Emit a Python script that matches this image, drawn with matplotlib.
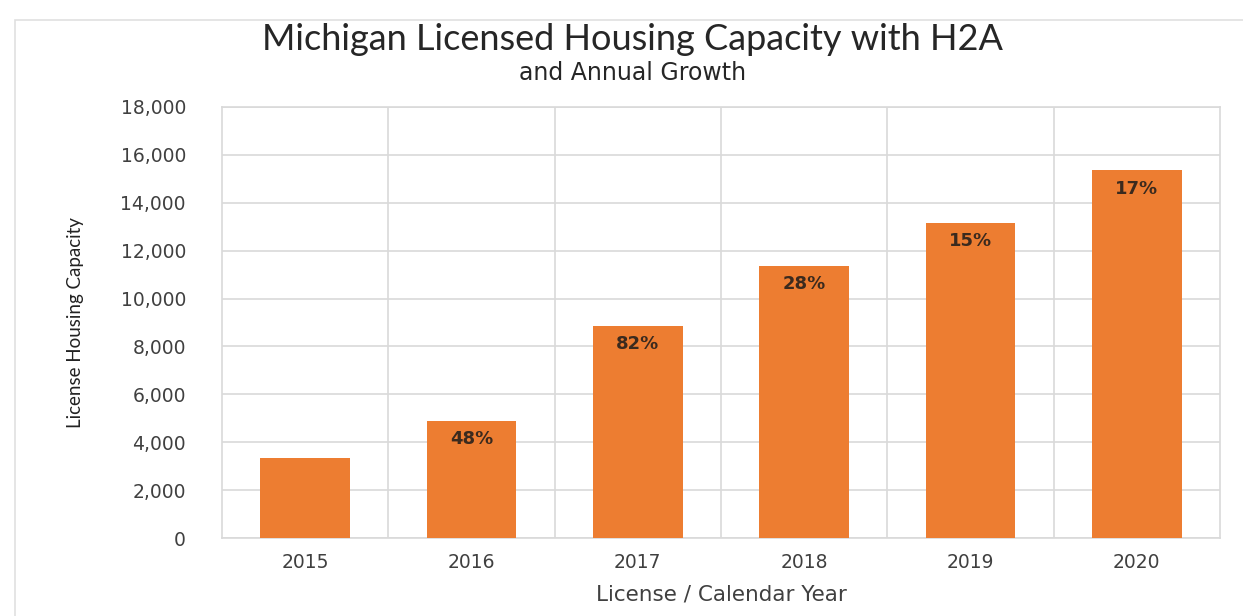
import matplotlib
matplotlib.use("Agg")
import matplotlib.pyplot as plt
from matplotlib.patches import Rectangle
from matplotlib.ticker import FuncFormatter, MultipleLocator

years = ["2015", "2016", "2017", "2018", "2019", "2020"]
capacity = [3350, 4900, 8850, 11350, 13150, 15350]
growth = ["", "48%", "82%", "28%", "15%", "17%"]

BAR = "#ED7D31"
GRID = "#D9D9D9"
TEXT = "#404040"

fig = plt.figure(figsize=(12.43, 6.16), dpi=100)
ax = fig.add_axes([0.1786, 0.1266, 0.8029, 0.6997])

x = range(len(years))
bars = ax.bar(x, capacity, width=0.54, color=BAR, zorder=3)

# growth labels sit just inside the top of each bar
for rect, lab in zip(bars, growth):
    if lab:
        ax.annotate(lab, (rect.get_x() + rect.get_width() / 2, rect.get_height()),
                    xytext=(0, -13), textcoords="offset points", ha="center", va="center",
                    fontsize=13, fontweight="bold", color="#3b2a1e", zorder=4)

ax.set_xlim(-0.5, len(years) - 0.5)
ax.set_ylim(0, 18000)
ax.yaxis.set_major_locator(MultipleLocator(2000))
ax.yaxis.set_major_formatter(FuncFormatter(lambda v, p: f"{int(v):,}"))
ax.set_xticks(list(x))
ax.set_xticklabels(years)
ax.set_xticks([i + 0.5 for i in range(len(years) - 1)], minor=True)
ax.grid(axis="y", color=GRID, lw=1.2, zorder=0)
ax.grid(axis="x", which="minor", color=GRID, lw=1.2, zorder=0)
ax.tick_params(axis="both", which="both", length=0, labelsize=13.5, colors=TEXT)
ax.tick_params(axis="x", pad=11)
ax.tick_params(axis="y", pad=26)
for s in ax.spines.values():
    s.set_color(GRID)
    s.set_linewidth(1.2)

ax.set_xlabel("License / Calendar Year", fontsize=15.5, color=TEXT, labelpad=9,
              family="DejaVu Sans")
ax.set_ylabel("License Housing Capacity", fontsize=13.5, color="#222222", labelpad=26,
              family="Lato")

fig.text(0.509, 0.936, "Michigan Licensed Housing Capacity with H2A", ha="center",
         va="center", fontsize=26, color="#262626", family="Lato")
fig.text(0.509, 0.882, "and Annual Growth", ha="center", va="center",
         fontsize=17, color="#262626", family="DejaVu Sans")

fig.patches.append(Rectangle((0.012, -0.01), 1.0, 0.978, transform=fig.transFigure,
                             fill=False, edgecolor="#E0E0E0", lw=1.2))

fig.savefig("out.png", dpi=100)
